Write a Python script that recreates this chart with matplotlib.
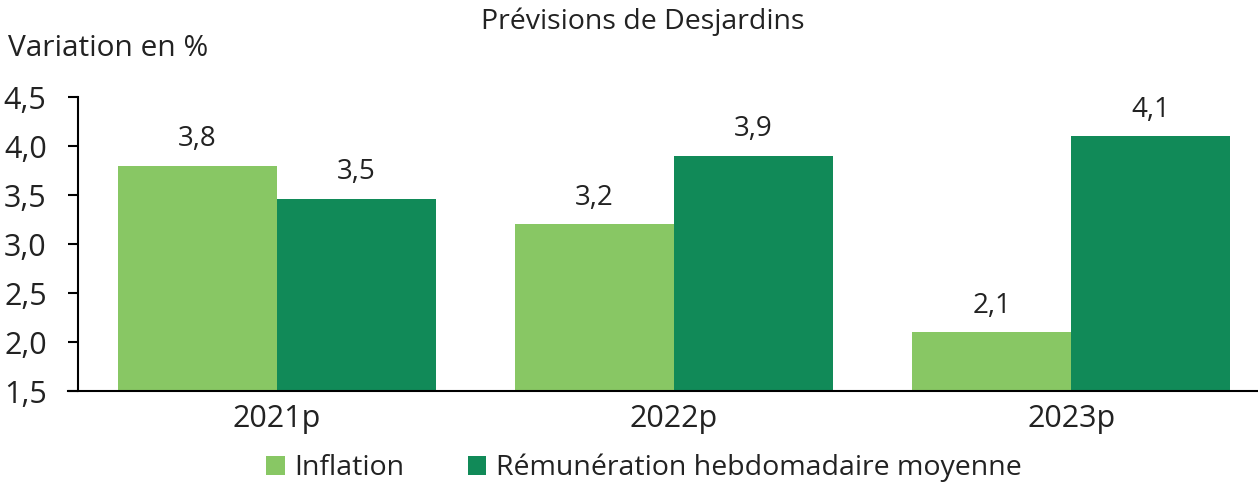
import numpy as np
import matplotlib.pyplot as plt

categories = ['2021p', '2022p', '2023p']
inflation = [3.8, 3.2, 2.1]
remuneration = [3.46, 3.9, 4.1]
inflation_labels = ['3,8', '3,2', '2,1']
remuneration_labels = ['3,5', '3,9', '4,1']
yticks = [1.5, 2.0, 2.5, 3.0, 3.5, 4.0, 4.5]
ytick_labels = ['1,5', '2,0', '2,5', '3,0', '3,5', '4,0', '4,5']

light = '#88c764'
dark = '#118a58'
txt = '#222222'

plt.rcParams['font.family'] = ['Open Sans', 'DejaVu Sans']

fig = plt.figure(figsize=(12.58, 4.9), dpi=100)
ax = fig.add_axes([78 / 1258, 1 - 391 / 490, (1258 - 78) / 1258, 294 / 490])

x = np.arange(len(categories))
w = 0.40
b1 = ax.bar(x - w / 2, inflation, w, color=light, label='Inflation')
b2 = ax.bar(x + w / 2, remuneration, w, color=dark,
            label='Rémunération hebdomadaire moyenne')

# étiquettes de valeur au-dessus des barres
for bars, labels in [(b1, inflation_labels), (b2, remuneration_labels)]:
    for rect, lab in zip(bars, labels):
        ax.annotate(lab, (rect.get_x() + rect.get_width() / 2, rect.get_height()),
                    xytext=(0, 9), textcoords='offset points', ha='center',
                    va='bottom', fontsize=20, color=txt)

ax.set_ylim(1.5, 4.5)
ax.set_xlim(-0.5, 2.47)
ax.set_yticks(yticks)
ax.set_yticklabels(ytick_labels, fontsize=22, color=txt)
ax.set_xticks(x)
ax.set_xticklabels(categories, fontsize=22, color=txt)
ax.tick_params(axis='y', direction='out', length=7.5, width=1.5, pad=15)
ax.tick_params(axis='x', length=0, pad=9)
for s in ['top', 'right']:
    ax.spines[s].set_visible(False)
ax.spines['left'].set_linewidth(1.5)
ax.spines['bottom'].set_linewidth(1.5)
ax.spines['bottom'].set_bounds(-0.525, 2.47)

fig.text(643 / 1258, 1 - 22 / 490, 'Prévisions de Desjardins', ha='center',
         va='center', fontsize=20.5, color=txt)
fig.text(8 / 1258, 1 - 48 / 490, 'Variation en %', ha='left', va='center',
         fontsize=21.5, color=txt)

fig.legend(loc='center', bbox_to_anchor=(644 / 1258, 1 - 468 / 490), ncol=2,
           frameon=False, fontsize=20.5, handlelength=0.65, handleheight=0.65,
           handletextpad=0.35, columnspacing=2.2, labelcolor=txt)

fig.savefig('out.png', dpi=100)
